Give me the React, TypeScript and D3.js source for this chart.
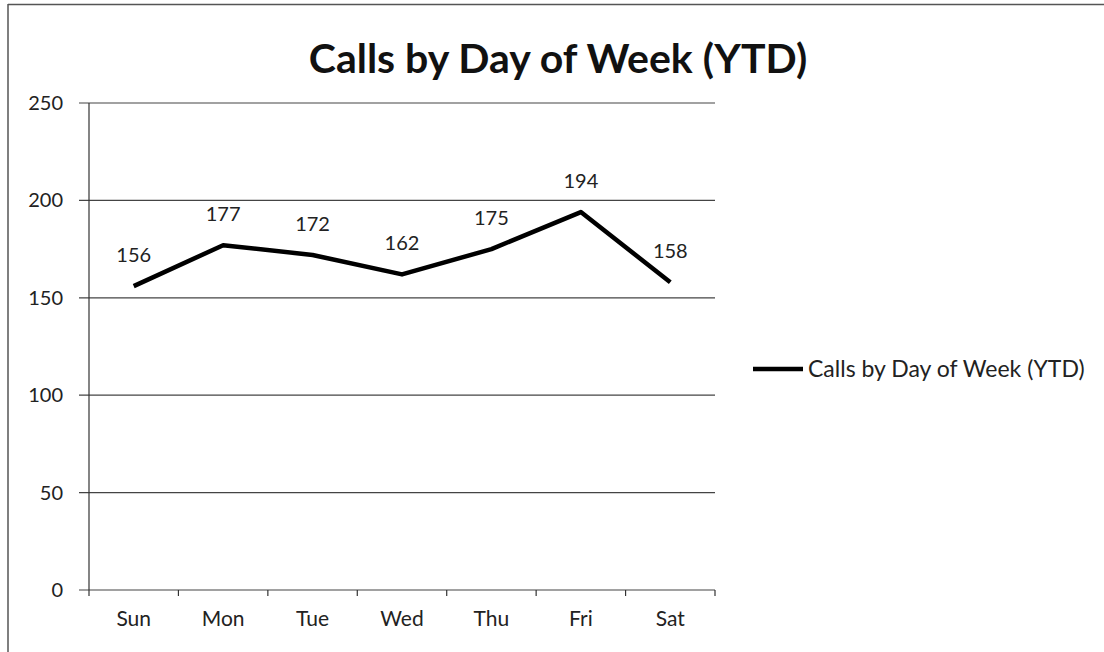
import * as d3 from "d3";

const DAYS = ["Sun", "Mon", "Tue", "Wed", "Thu", "Fri", "Sat"];
const CALLS = [156, 177, 172, 162, 175, 194, 158];
const Y_TICKS = [0, 50, 100, 150, 200, 250];
const TITLE = "Calls by Day of Week (YTD)";
const SERIES = "Calls by Day of Week (YTD)";

const W = 1104;
const H = 652;
const PLOT = { left: 89, right: 715, top: 103, bottom: 590 };
const FONT = "Lato, 'Open Sans', sans-serif";

export default function App() {
  const x = d3.scaleBand<string>().domain(DAYS).range([PLOT.left, PLOT.right]);
  const y = d3.scaleLinear().domain([0, 250]).range([PLOT.bottom, PLOT.top]);
  const cx = (d: string) => x(d)! + x.bandwidth() / 2;
  const line = d3
    .line<number>()
    .x((_, i) => cx(DAYS[i]))
    .y((d) => y(d));

  const edges = [...DAYS.map((d) => x(d)!), PLOT.right];

  return (
    <svg
      width={W}
      height={H}
      style={{ position: "absolute", left: 0, top: 0, background: "#fff" }}
    >
      <rect x={0} y={0} width={W} height={H} fill="#fff" />
      {/* scanned frame edges */}
      <line x1={8} x2={W} y1={4.5} y2={4.5} stroke="#555" strokeWidth={1.5} />
      <line x1={8} x2={8} y1={4} y2={H} stroke="#555" strokeWidth={1.5} />

      <text
        x={558}
        y={73}
        textAnchor="middle"
        style={{ font: `bold 41px ${FONT}` }}
        fill="#111"
      >
        {TITLE}
      </text>

      {Y_TICKS.map((t) => (
        <g key={t}>
          <line
            x1={PLOT.left - 10}
            x2={PLOT.right}
            y1={y(t)}
            y2={y(t)}
            stroke="#444"
            strokeWidth={1.2}
          />
          <text
            x={63}
            y={y(t)}
            dy="0.35em"
            textAnchor="end"
            style={{ font: `20px ${FONT}` }}
            fill="#222"
          >
            {t}
          </text>
        </g>
      ))}

      <line
        x1={PLOT.left}
        x2={PLOT.left}
        y1={PLOT.top}
        y2={PLOT.bottom}
        stroke="#333"
        strokeWidth={1.2}
      />
      {edges.map((e, i) => (
        <line
          key={i}
          x1={e}
          x2={e}
          y1={PLOT.bottom}
          y2={PLOT.bottom + 6}
          stroke="#333"
          strokeWidth={1.2}
        />
      ))}
      {DAYS.map((d) => (
        <text
          key={d}
          x={cx(d)}
          y={626}
          textAnchor="middle"
          style={{ font: `21px ${FONT}` }}
          fill="#222"
        >
          {d}
        </text>
      ))}

      <path
        d={line(CALLS) ?? ""}
        fill="none"
        stroke="#000"
        strokeWidth={4.5}
        strokeLinejoin="round"
      />
      {CALLS.map((v, i) => (
        <text
          key={i}
          x={cx(DAYS[i])}
          y={y(v) - 24}
          textAnchor="middle"
          style={{ font: `20px ${FONT}` }}
          fill="#222"
        >
          {v}
        </text>
      ))}

      <line x1={753} x2={803} y1={369} y2={369} stroke="#000" strokeWidth={4.5} />
      <text x={808} y={369} dy="0.35em" style={{ font: `23px ${FONT}` }} fill="#222">
        {SERIES}
      </text>
    </svg>
  );
}
